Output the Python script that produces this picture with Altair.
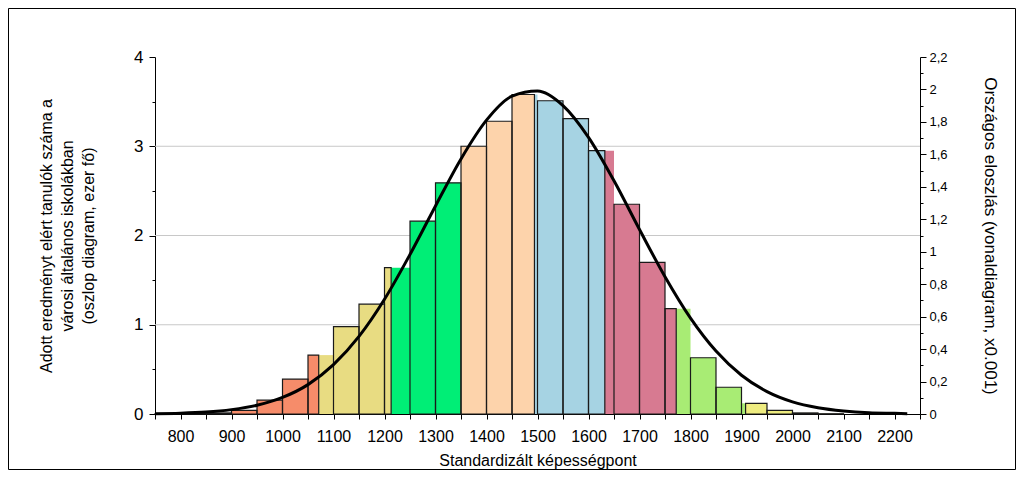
import altair as alt
import pandas as pd

# ---- data ----
bin_starts = [750, 800, 850, 900, 950, 1000, 1050, 1100, 1150, 1200, 1250, 1300, 1350,
              1400, 1450, 1500, 1550, 1600, 1650, 1700, 1750, 1800, 1850, 1900, 1950,
              2000, 2050]
bin_width = 50
counts = [0.003, 0.006, 0.012, 0.04, 0.155, 0.39, 0.66, 0.98, 1.23, 1.64, 2.16, 2.59, 3.00,
          3.28, 3.58, 3.51, 3.31, 2.95, 2.35, 1.70, 1.18, 0.63, 0.30, 0.12, 0.04,
          0.012, 0.003]

level_bounds = [1071, 1213, 1350, 1494, 1632, 1772, 1908]
level_names = ["L0", "L1", "L2", "L3", "L4", "L5", "L6", "L7"]
level_colors = ["#F68C6A", "#E8DC82", "#00EE76", "#FDD3AB", "#A6D3E3", "#D77A91",
                "#A8EC74", "#EEEC80"]

curve_x = [750, 800, 850, 900, 950, 1000, 1050, 1100, 1150, 1200, 1250, 1300, 1350,
           1400, 1450, 1500, 1550, 1600, 1650, 1700, 1750, 1800, 1850, 1900, 1950,
           2000, 2050, 2100, 2150, 2200, 2225]
curve_y = [0.002, 0.005, 0.012, 0.027, 0.054, 0.102, 0.181, 0.304, 0.478, 0.707, 0.983,
           1.282, 1.572, 1.811, 1.959, 1.991, 1.901, 1.705, 1.437, 1.137, 0.846, 0.591,
           0.388, 0.239, 0.138, 0.075, 0.039, 0.019, 0.008, 0.004, 0.002]

grid_vals = [1, 2, 3]

# ---- tables ----
seg_rows, out_rows = [], []
for s, h in zip(bin_starts, counts):
    e = s + bin_width
    cuts = [s] + [b for b in level_bounds if s < b < e] + [e]
    for i in range(len(cuts) - 1):
        lvl = sum(1 for b in level_bounds if b <= cuts[i])
        seg_rows.append({"x0": cuts[i], "x1": cuts[i + 1], "h": h, "z": 0,
                         "level": level_names[lvl]})
    if len(cuts) > 2 and cuts[1] - cuts[0] < 11:
        out_rows.append({"x0": cuts[1], "x1": cuts[2], "h": h, "z": 0})
    else:
        out_rows.append({"x0": cuts[0], "x1": cuts[1], "h": h, "z": 0})
seg_df = pd.DataFrame(seg_rows)
out_df = pd.DataFrame(out_rows)
curve_df = pd.DataFrame({"x": curve_x, "y": curve_y})
grid_df = pd.DataFrame({"g": grid_vals})
frame_df = pd.DataFrame({"a": [0]})

FONT = "Liberation Sans"

x_scale = alt.Scale(domain=[750, 2250], nice=False, zero=False)
yl_scale = alt.Scale(domain=[0, 4], nice=False)
yr_scale = alt.Scale(domain=[0, 2.2], nice=False)

x_axis = alt.Axis(
    values=list(range(750, 2251, 50)),
    labelExpr="(datum.value % 100 == 0 && datum.value >= 800 && datum.value <= 2200) ? datum.value : ''",
    title="Standardizált képességpont", titleFontSize=16, titleFontWeight="normal",
    titlePadding=8, labelFontSize=16, labelPadding=9, tickSize=5,
    domainColor="black", tickColor="black", labelColor="black", titleColor="black",
    grid=False, labelFlush=False, labelOverlap=False,
)

left_axis = alt.Axis(
    values=[0, 0.5, 1, 1.5, 2, 2.5, 3, 3.5, 4],
    labelExpr="datum.value % 1 == 0 ? datum.value : ''",
    tickSize={"condition": {"test": "datum.value % 1 == 0", "value": 6}, "value": 3},
    title=["Adott eredményt elért tanulók száma a", "városi általános iskolákban",
           "(oszlop diagram, ezer fő)"],
    titleFontSize=16, titleFontWeight="normal", titleLineHeight=21, titlePadding=37,
    labelFontSize=17, labelPadding=6, domainColor="black", tickColor="black",
    labelColor="black", titleColor="black", grid=False, labelFlush=False,
)

right_axis = alt.Axis(
    orient="right",
    values=[round(i * 0.1, 1) for i in range(23)],
    labelExpr="round(datum.value * 10) % 2 == 0 ? replace(format(datum.value, '.1~f'), '.', ',') : ''",
    tickSize={"condition": {"test": "round(datum.value * 10) % 2 == 0", "value": 6}, "value": 3},
    title="Országos eloszlás (vonaldiagram, x0.001)",
    titleFontSize=17, titleFontWeight="normal", titlePadding=33,
    labelFontSize=13, labelPadding=3, domainColor="black", tickColor="black",
    labelColor="black", titleColor="black", grid=False, labelFlush=False,
)

grid = alt.Chart(grid_df).mark_rule(color="#c8c8c8", strokeWidth=1).encode(
    y=alt.Y("g:Q", scale=yl_scale, axis=left_axis)
)

bars = alt.Chart(seg_df).mark_rect(strokeWidth=0).encode(
    x=alt.X("x0:Q", scale=x_scale, axis=x_axis),
    x2="x1:Q",
    y=alt.Y("h:Q", scale=yl_scale, axis=left_axis),
    y2="z:Q",
    color=alt.Color("level:N", scale=alt.Scale(domain=level_names, range=level_colors),
                    legend=None),
)

outlines = alt.Chart(out_df).mark_rect(filled=False, stroke="#1a1a1a", strokeWidth=1.2).encode(
    x=alt.X("x0:Q", scale=x_scale, axis=x_axis),
    x2="x1:Q",
    y=alt.Y("h:Q", scale=yl_scale, axis=left_axis),
    y2="z:Q",
)

frame = alt.Chart(frame_df).mark_rect(filled=False, stroke="black", strokeWidth=1,
                                      clip=False).encode(
    x=alt.value(-146.5), x2=alt.value(765 + 95.5),
    y=alt.value(-48.5), y2=alt.value(357 + 55.5),
)

left = alt.layer(grid, bars, outlines, frame)

line = alt.Chart(curve_df).mark_line(color="black", strokeWidth=3,
                                     interpolate="monotone").encode(
    x=alt.X("x:Q", scale=x_scale, axis=x_axis),
    y=alt.Y("y:Q", scale=yr_scale, axis=right_axis),
)

chart = alt.layer(left, line).resolve_scale(y="independent").properties(
    width=765, height=357,
    autosize=alt.AutoSizeParams(type="none"),
    padding={"left": 147, "top": 49, "right": 96, "bottom": 56},
).configure(font=FONT).configure_view(stroke=None)

chart.save("out.html", embed_options={"renderer": "svg", "actions": False})
